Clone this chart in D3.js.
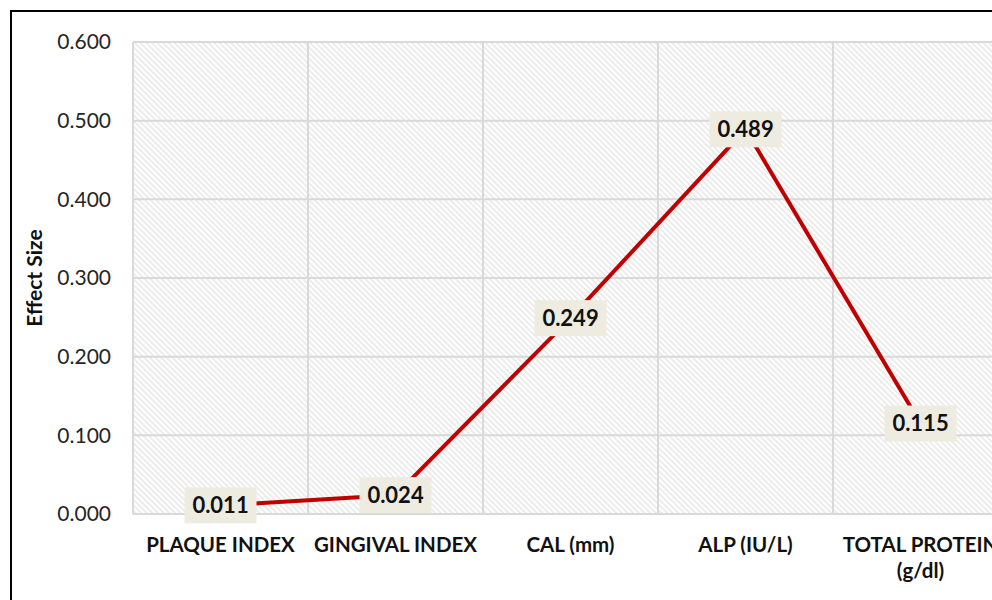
<!DOCTYPE html>
<html>
<head>
<meta charset="utf-8">
<script src="https://cdn.jsdelivr.net/npm/d3@7"></script>
<style>
  html, body { margin: 0; padding: 0; background: #fff; }
  svg { display: block; }
</style>
</head>
<body>
<svg id="chart" width="992" height="600"></svg>
<script>
// Effect size per clinical / biochemical parameter
const categories = ["PLAQUE INDEX", "GINGIVAL INDEX", "CAL (mm)", "ALP (IU/L)", "TOTAL PROTEIN (g/dl)"];
const effectSize = [0.011, 0.024, 0.249, 0.489, 0.115];
const yTicks = [0, 0.1, 0.2, 0.3, 0.4, 0.5, 0.6];

const svg = d3.select("#chart");
const FONT = "Lato, 'Open Sans', sans-serif";

const plot = { left: 133, right: 1008, top: 42, bottom: 514 };

const x = d3.scaleBand().domain(categories).range([plot.left, plot.right]);
const y = d3.scaleLinear().domain([0, 0.6]).range([plot.bottom, plot.top]);

// Outer frame of the chart
svg.append("rect")
  .attr("x", 11).attr("y", 11)
  .attr("width", 1100).attr("height", 700)
  .attr("fill", "#fff").attr("stroke", "#000").attr("stroke-width", 2);

// Diagonal hatch fill of the plot area
const defs = svg.append("defs");
const pat = defs.append("pattern")
  .attr("id", "hatch")
  .attr("patternUnits", "userSpaceOnUse")
  .attr("width", 4).attr("height", 4)
  .attr("patternTransform", "rotate(-45)");
pat.append("rect").attr("width", 4).attr("height", 4).attr("fill", "#fff");
pat.append("line")
  .attr("x1", 1).attr("y1", 0).attr("x2", 1).attr("y2", 4)
  .attr("stroke", "#dadada").attr("stroke-width", 1);

svg.append("rect")
  .attr("x", plot.left).attr("y", plot.top)
  .attr("width", plot.right - plot.left).attr("height", plot.bottom - plot.top)
  .attr("fill", "url(#hatch)");

// Horizontal gridlines
svg.append("g")
  .selectAll("line")
  .data(yTicks)
  .join("line")
  .attr("x1", plot.left).attr("x2", plot.right)
  .attr("y1", d => y(d)).attr("y2", d => y(d))
  .attr("stroke", "#d9d9d9").attr("stroke-width", 2);

// Vertical gridlines at category boundaries
const bounds = categories.map(c => x(c)).concat([plot.right]);
svg.append("g")
  .selectAll("line")
  .data(bounds)
  .join("line")
  .attr("x1", d => d).attr("x2", d => d)
  .attr("y1", plot.top).attr("y2", plot.bottom)
  .attr("stroke", "#d9d9d9").attr("stroke-width", 2);

// Y axis tick labels
const yAxis = svg.append("g")
  .attr("transform", `translate(${plot.left},0)`)
  .call(d3.axisLeft(y).tickValues(yTicks).tickFormat(d3.format(".3f")).tickSize(0).tickPadding(22));
yAxis.select(".domain").remove();
yAxis.selectAll("text")
  .attr("font-family", FONT).attr("font-size", 21).attr("fill", "#262626");

// Y axis title
svg.append("text")
  .attr("transform", `translate(42,278) rotate(-90)`)
  .attr("text-anchor", "middle")
  .attr("font-family", FONT).attr("font-size", 21).attr("font-weight", "bold")
  .attr("fill", "#111")
  .text("Effect Size");

// Category labels (wrap the long one)
const xAxis = svg.append("g")
  .attr("transform", `translate(0,${plot.bottom})`)
  .call(d3.axisBottom(x).tickSize(0).tickPadding(0));
xAxis.select(".domain").remove();
xAxis.selectAll("text").remove();
xAxis.selectAll(".tick").each(function(d) {
  const words = d === "TOTAL PROTEIN (g/dl)" ? ["TOTAL PROTEIN", "(g/dl)"] : [d];
  const t = d3.select(this).append("text")
    .attr("text-anchor", "middle")
    .attr("font-family", FONT).attr("font-size", 20.5).attr("font-weight", "bold")
    .attr("fill", "#111");
  words.forEach((w, i) => {
    t.append("tspan").attr("x", 0).attr("y", 38 + i * 26).text(w);
  });
});

// Effect size line
const pts = categories.map((c, i) => ({ c, v: effectSize[i] }));
svg.append("path")
  .datum(pts)
  .attr("fill", "none")
  .attr("stroke", "#c00000")
  .attr("stroke-width", 4)
  .attr("d", d3.line().x(d => x(d.c) + x.bandwidth() / 2).y(d => y(d.v)));

// Value labels with beige boxes
const lbl = svg.append("g").selectAll("g")
  .data(pts)
  .join("g")
  .attr("transform", d => `translate(${x(d.c) + x.bandwidth() / 2},${y(d.v)})`);
lbl.append("rect")
  .attr("x", -36).attr("y", -18)
  .attr("width", 72).attr("height", 36)
  .attr("fill", "#eeece1");
lbl.append("text")
  .attr("text-anchor", "middle")
  .attr("dy", "0.36em")
  .attr("font-family", FONT).attr("font-size", 22).attr("font-weight", "bold")
  .attr("fill", "#111")
  .text(d => d3.format(".3f")(d.v));
</script>
</body>
</html>
